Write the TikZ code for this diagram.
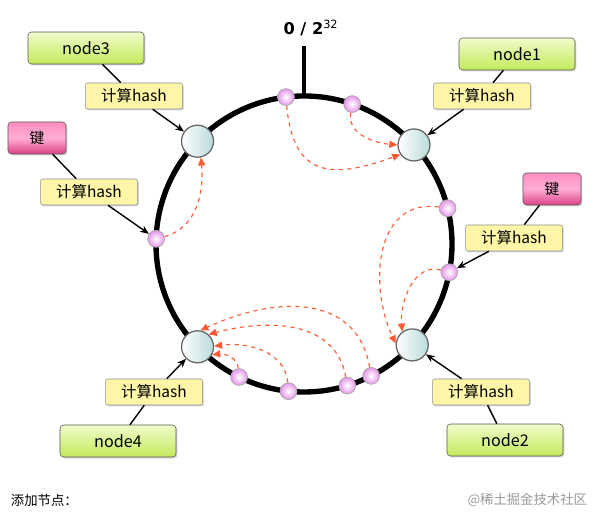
\documentclass[tikz,border=0pt]{standalone}
\usepackage{fontspec}
\newfontfamily\cjk{Noto Sans CJK SC}
\newfontfamily\numfont{DejaVu Sans}
\usetikzlibrary{arrows.meta,shadows}
\definecolor{nodeTop}{HTML}{F1FCCB}
\definecolor{nodeBot}{HTML}{C2EA5C}
\definecolor{hashFill}{HTML}{FFF6A8}
\definecolor{keyTop}{HTML}{FF8CC2}
\definecolor{keyBot}{HTML}{DC3F86}
\definecolor{serverFill}{HTML}{B9DADA}
\definecolor{pointFill}{HTML}{E596EA}
\definecolor{moveRed}{HTML}{FF5A36}
\def\ringR{148}
\tikzset
{
  NodeBox/.style =
  {
    draw=black!65,
    rounded corners=2.5pt,
    top color=nodeTop,
    bottom color=nodeBot,
    minimum width=2.9cm,
    minimum height=0.8cm,
    font=\cjk\fontsize{11.5}{12}\selectfont,
    drop shadow={opacity=0.35,shadow xshift=1pt,shadow yshift=-1pt},
  },
  KeyBox/.style =
  {
    NodeBox,
    top color=keyTop,
    bottom color=keyBot,
    middle color=keyTop!70,
    minimum width=1.45cm,
    font=\cjk\fontsize{10.5}{12}\selectfont,
  },
  HashBox/.style =
  {
    draw=black!45,
    rounded corners=1.5pt,
    fill=hashFill,
    minimum width=2.42cm,
    minimum height=0.65cm,
    font=\cjk\fontsize{11}{12}\selectfont,
    drop shadow={opacity=0.3,shadow xshift=1pt,shadow yshift=-1pt},
  },
  Server/.style =
  {
    circle,
    draw=black!60,
    line width=0.9pt,
    left color=white,
    right color=serverFill,
    minimum size=0.8cm,
    inner sep=0pt,
  },
  KeyPoint/.style =
  {
    circle,
    draw=black!35,
    line width=0.5pt,
    inner color=white,
    outer color=pointFill,
    minimum size=0.42cm,
    inner sep=0pt,
  },
  Ring/.style = {line width=3.8pt},
  Link/.style = {line width=1pt, -{Stealth[length=2.2mm,width=1.8mm]}},
  Join/.style = {line width=1pt},
  Move/.style =
  {
    moveRed,
    dashed,
    line width=0.8pt,
    -{Triangle[length=2mm,width=1.8mm]},
  },
}

\begin{document}
\begin{tikzpicture}
[
  x=0.025cm, y=0.025cm,
  font=\cjk,
]
\useasboundingbox (0,0) rectangle (605,523);
\coordinate (c) at (304,279);

% hash ring and its zero mark
\draw [Ring] (c) circle [radius=\ringR];
\path (c) ++(90:\ringR) coordinate (zero);
\draw [line width=3pt] (zero) -- ++(0,50) coordinate (zeroTop);
\node (zeroLbl) at (311,495) {\numfont\fontsize{11.5}{12}\selectfont\bfseries 0 / 2\textsuperscript{\mdseries 32}};

% servers on the ring
\foreach \name/\ang in {n1/42, n2/317, n3/136, n4/224}
  \path (c) ++(\ang:\ringR) node [Server] (\name) {};

% hashed keys on the ring
\foreach \name/\ang in {kTopA/97, kTopB/71, kLeft/178, kRightA/14, kRightB/349,
                        kBotA/244, kBotB/264, kBotC/287, kBotD/297}
  \path (c) ++(\ang:\ringR) node [KeyPoint] (\name) {};

% each key goes clockwise to the next server
\draw [Move] (kTopB) to [out=260,in=175] (n1.180);
\draw [Move] (kTopA) to [out=275,in=200,looseness=1.5] (n1.215);
\draw [Move] (kLeft) to [out=15,in=275] (n3.282);
\draw [Move] (kRightA) to [out=172,in=115,looseness=1.15] (n2.175);
\draw [Move] (kRightB) to [out=165,in=95] (n2.127);
\draw [Move] (kBotD) to [out=100,in=25,looseness=1.15] (n4.80);
\draw [Move] (kBotC) to [out=100,in=15,looseness=1.05] (n4.48);
\draw [Move] (kBotB) to [out=95,in=8] (n4.2);
\draw [Move] (kBotA) to [out=95,in=5] (n4.-28);

% servers and keys outside the ring
\node [NodeBox] (node3) at (86,475) {node3};
\node [NodeBox] (node1) at (517,469) {node1};
\node [NodeBox] (node4) at (118,82) {node4};
\node [NodeBox] (node2) at (505,83) {node2};
\node [KeyBox] (keyL) at (37,385) {键};
\node [KeyBox] (keyR) at (552,334) {键};

\node [HashBox] (h3) at (134,427) {计算hash};
\node [HashBox] (h1) at (482,427) {计算hash};
\node [HashBox] (h4) at (154,131) {计算hash};
\node [HashBox] (h2) at (481,131) {计算hash};
\node [HashBox] (hL) at (89,331) {计算hash};
\node [HashBox] (hR) at (514,285) {计算hash};

\draw [Join] (node3) -- (h3);
\draw [Link] (h3) -- (n3);
\draw [Join] (node1) -- (h1);
\draw [Link] (h1) -- (n1);
\draw [Join] (node4) -- (h4);
\draw [Link] (h4) -- (n4);
\draw [Join] (node2) -- (h2);
\draw [Link] (h2) -- (n2);
\draw [Join] (keyL) -- (hL);
\draw [Link] (hL) -- (kLeft);
\draw [Join] (keyR) -- (hR);
\draw [Link] (hR) -- (kRightB);

\node [anchor=west, font=\cjk\fontsize{9.5}{11}\selectfont] (caption) at (6,23) {添加节点：};
\node [anchor=east, text=black!40, font=\cjk\fontsize{9.5}{11}\selectfont] (mark) at (592,23) {@稀土掘金技术社区};
\end{tikzpicture}
\end{document}
